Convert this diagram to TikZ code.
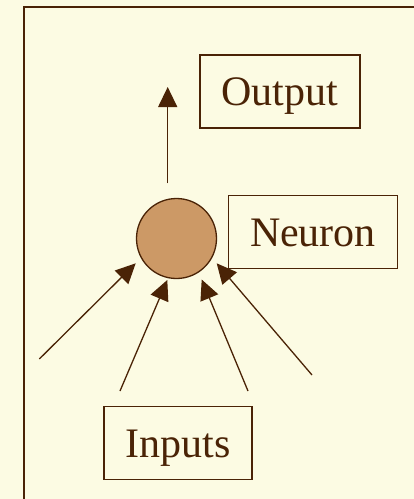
\documentclass[tikz,border=0pt]{standalone}
\usepackage{fontspec}
\setmainfont{Liberation Serif}
\usetikzlibrary{arrows.meta}
\definecolor{paper}{HTML}{FCFBE3}
\definecolor{ink}{HTML}{4A2306}
\definecolor{cellfill}{HTML}{CC9966}
\begin{document}
\begin{tikzpicture}[x=1pt,y=-1pt,
  labelbox/.style={draw=ink, line width=1.3pt, minimum height=73pt, inner sep=0pt,
    text height=28pt, text depth=0pt,
    text=ink, font=\fontsize{42}{50}\selectfont},
  cell/.style={circle, draw=ink, line width=1.3pt, fill=cellfill,
    minimum size=80pt, inner sep=0pt},
  signal/.style={draw=ink, line width=1.3pt, -{Triangle[length=20pt,width=19pt]}}]
  % page and frame
  \fill[paper] (0,0) rectangle (414,499);
  \useasboundingbox (0,0) rectangle (414,499);
  \clip (0,0) rectangle (414,499);
  \draw[ink, line width=2pt] (24,7) rectangle (440,530);

  % labels
  \node[labelbox, minimum width=160pt] (output) at (280,91.5) {Output};
  \node[labelbox, minimum width=169pt] (neuronlabel) at (313,232.3) {Neuron};
  \node[labelbox, minimum width=148pt] (inputs) at (178,443.3) {Inputs};

  % the neuron
  \node[cell] (neuron) at (176.5,238.5) {};

  % output signal
  \coordinate (outfrom) at (167.7,183.3);
  \coordinate (outto) at (167.7,87);
  \draw[signal] (outfrom) -- (outto);

  % input signals
  \coordinate (in1) at (39.3,359);
  \coordinate (in2) at (120,391);
  \coordinate (in3) at (248,391);
  \coordinate (in4) at (312,375);
  \coordinate (tip1) at (135.7,263.3);
  \coordinate (tip2) at (167.3,280);
  \coordinate (tip3) at (201.7,279.5);
  \coordinate (tip4) at (216.7,263.3);
  \draw[signal] (in1) -- (tip1);
  \draw[signal] (in2) -- (tip2);
  \draw[signal] (in3) -- (tip3);
  \draw[signal] (in4) -- (tip4);
\end{tikzpicture}
\end{document}
